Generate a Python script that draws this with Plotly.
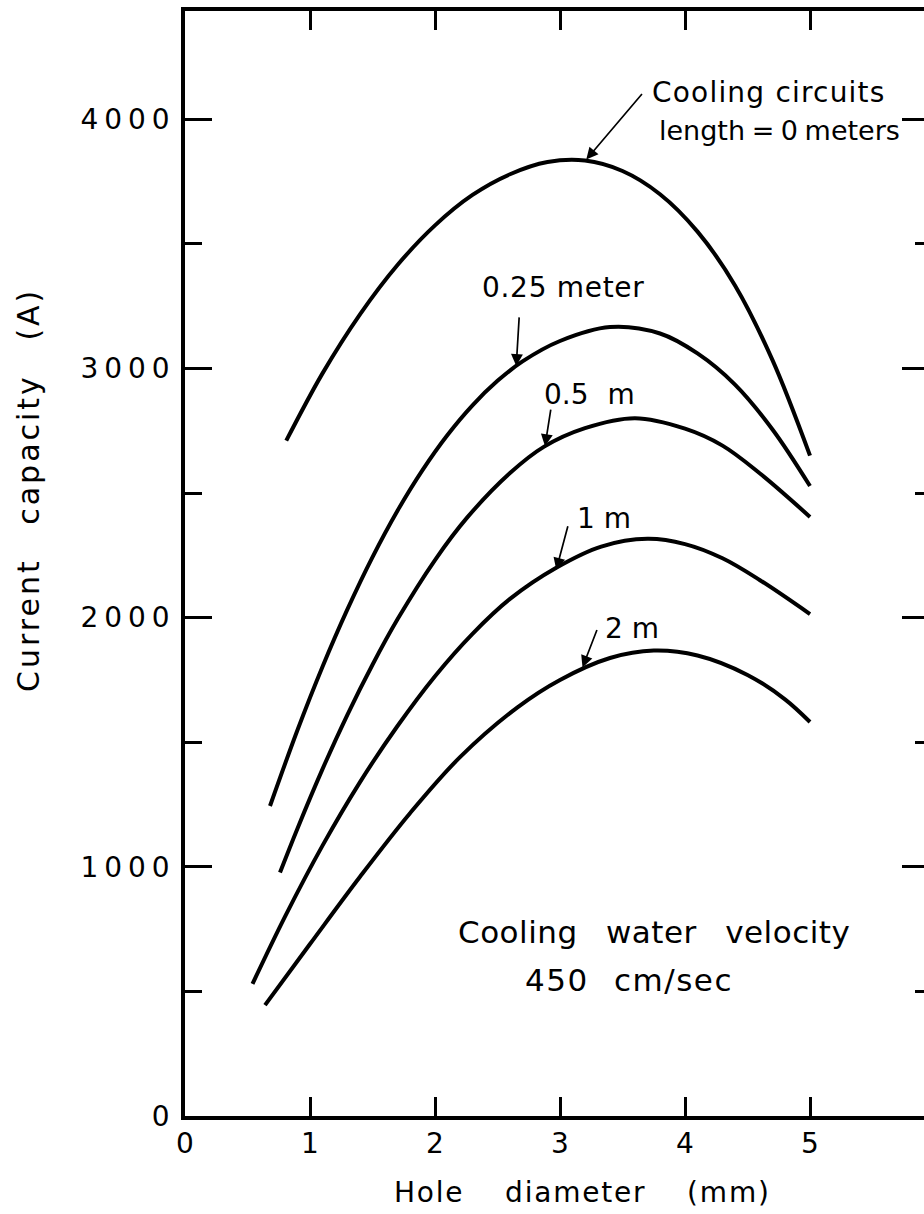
import plotly.graph_objects as go

# ---- data ----
x_0m = [0.81, 1.1, 1.4, 1.7, 2.0, 2.3, 2.6, 2.9, 3.2, 3.5, 3.8, 4.1, 4.4, 4.7, 5.0]
y_0m = [2710, 2980, 3217, 3415, 3574, 3696, 3779, 3828, 3834, 3792, 3699, 3549, 3333, 3033, 2650]

x_025m = [0.68, 0.9, 1.1, 1.3, 1.5, 1.7, 1.9, 2.1, 2.3, 2.5, 2.7, 3.0, 3.4, 3.8, 4.1, 4.4, 4.7, 5.0]
y_025m = [1244, 1549, 1803, 2034, 2243, 2429, 2592, 2733, 2852, 2950, 3028, 3110, 3166, 3140, 3060, 2935, 2755, 2528]

x_05m = [0.76, 0.9, 1.1, 1.3, 1.5, 1.7, 2.0, 2.26, 2.6, 2.87, 3.2, 3.6, 4.0, 4.3, 4.6, 5.0]
y_05m = [977, 1154, 1392, 1611, 1811, 1993, 2231, 2403, 2580, 2685, 2760, 2800, 2758, 2690, 2578, 2404]

x_1m = [0.54, 0.8, 1.1, 1.4, 1.7, 2.0, 2.3, 2.6, 2.97, 3.33, 3.7, 4.0, 4.3, 4.6, 5.0]
y_1m = [530, 800, 1085, 1340, 1565, 1765, 1935, 2075, 2200, 2285, 2316, 2295, 2238, 2150, 2014]

x_2m = [0.64, 1.0, 1.4, 1.8, 2.2, 2.66, 3.0, 3.4, 3.75, 4.1, 4.5, 4.8, 5.0]
y_2m = [445, 690, 960, 1215, 1440, 1640, 1750, 1838, 1868, 1848, 1770, 1672, 1581]

x_tickvals = [0, 1, 2, 3, 4, 5]
x_ticktext = ["0", "1", "2", "3", "4", "5"]
y_tickvals = [0, 1000, 2000, 3000, 4000]
y_ticktext = ["0", "1000", "2000", "3000", "4000"]

series = [(x_0m, y_0m), (x_025m, y_025m), (x_05m, y_05m), (x_1m, y_1m), (x_2m, y_2m)]

FONT = "DejaVu Sans"


def spaced(t, ls=0, ws=0):
    return f"<span style='letter-spacing:{ls}px;word-spacing:{ws}px'>{t}</span>"


fig = go.Figure()
for xs, ys in series:
    fig.add_trace(go.Scatter(
        x=xs, y=ys, mode="lines",
        line=dict(color="black", width=4, shape="spline", smoothing=1.0),
        showlegend=False, hoverinfo="skip"))
# invisible trace to activate right-side tick axis
fig.add_trace(go.Scatter(x=[None], y=[None], yaxis="y2", showlegend=False, hoverinfo="skip"))

L, T, B = 185, 11, 98
W, H = 924, 1214
PX_PER_MM = 125.0
PX_PER_A = 0.2492
plot_w = W - L
plot_h = H - T - B
XMAX = plot_w / PX_PER_MM
YMAX = plot_h / PX_PER_A

fig.update_layout(
    width=W, height=H,
    margin=dict(l=L, r=0, t=T, b=B),
    plot_bgcolor="white", paper_bgcolor="white",
    font=dict(family=FONT, size=28, color="black"),
    xaxis=dict(
        range=[0, XMAX], tickvals=x_tickvals, ticktext=x_ticktext,
        ticks="inside", ticklen=19, tickwidth=3, tickcolor="black",
        showline=True, linewidth=3.5, linecolor="black", mirror="ticks",
        showgrid=False, zeroline=False, tickfont=dict(size=28),
    ),
    yaxis=dict(
        range=[0, YMAX], tickvals=y_tickvals,
        ticktext=[spaced(t, 6) for t in y_ticktext],
        ticks="inside", ticklen=27, tickwidth=3, tickcolor="black",
        minor=dict(dtick=500, tick0=0, ticks="inside", ticklen=17, tickwidth=3,
                   tickcolor="black", showgrid=False),
        showline=True, linewidth=3.5, linecolor="black", mirror=False,
        showgrid=False, zeroline=False, tickfont=dict(size=28),
    ),
    yaxis2=dict(
        range=[0, YMAX], overlaying="y", side="right", matches="y",
        tickvals=y_tickvals, showticklabels=False,
        ticks="inside", ticklen=22, tickwidth=3, tickcolor="black",
        minor=dict(dtick=500, tick0=0, ticks="inside", ticklen=9, tickwidth=3,
                   tickcolor="black", showgrid=False),
        showline=False, showgrid=False, zeroline=False,
    ),
)


def px2x(px):
    return (px - L) / PX_PER_MM


def py2y(py):
    return (H - B - py) / PX_PER_A


# text labels: (text, left px, center y px, size, letter-spacing, word-spacing)
texts = [
    ("Cooling circuits", 650, 92, 28, 1.2, 0),
    ("length = 0 meters", 657, 130, 27, 0, -2),
    ("0.25 meter", 480, 287, 28, 0.7, 0),
    ("0.5 m", 542, 394, 28, 0, 10),
    ("1 m", 575, 518, 28, 0, 0),
    ("2 m", 603, 628, 28, 0, 0),
    ("Cooling water velocity", 456, 932, 31, 0.5, 18),
    ("450 cm/sec", 523, 980, 31, 1.5, 14),
]
for t, lx, cy, sz, ls, ws in texts:
    fig.add_annotation(x=px2x(lx), y=py2y(cy), text=spaced(t, ls, ws), showarrow=False,
                       xanchor="left", yanchor="middle",
                       font=dict(family=FONT, size=sz, color="black"))

# arrows (tip on curve in data units, tail offset in px)
arrows = [
    (3.21, 3838, 57, -67),
    (2.65, 3010, 3, -50),
    (2.88, 2688, 6, -38),
    (2.97, 2192, 12, -45),
    (3.18, 1800, 15, -39),
]
for x, y, ax, ay in arrows:
    fig.add_annotation(x=x, y=y, ax=ax, ay=ay, text="", showarrow=True,
                       arrowhead=2, arrowsize=1.4, arrowwidth=1.7, arrowcolor="black",
                       standoff=0)

# axis titles
fig.add_annotation(xref="paper", yref="paper", x=(392 - L) / plot_w, y=(H - B - 1192) / plot_h,
                   text=spaced("Hole diameter (mm)", 1.8, 30), showarrow=False,
                   xanchor="left", yanchor="middle",
                   font=dict(family=FONT, size=28, color="black"))
fig.add_annotation(xref="paper", yref="paper", x=(28 - L) / plot_w, y=(H - B - 490) / plot_h,
                   text=spaced("Current capacity (A)", 3, 21), showarrow=False, textangle=-90,
                   xanchor="center", yanchor="middle",
                   font=dict(family=FONT, size=30, color="black"))

fig.write_html("out.html")
